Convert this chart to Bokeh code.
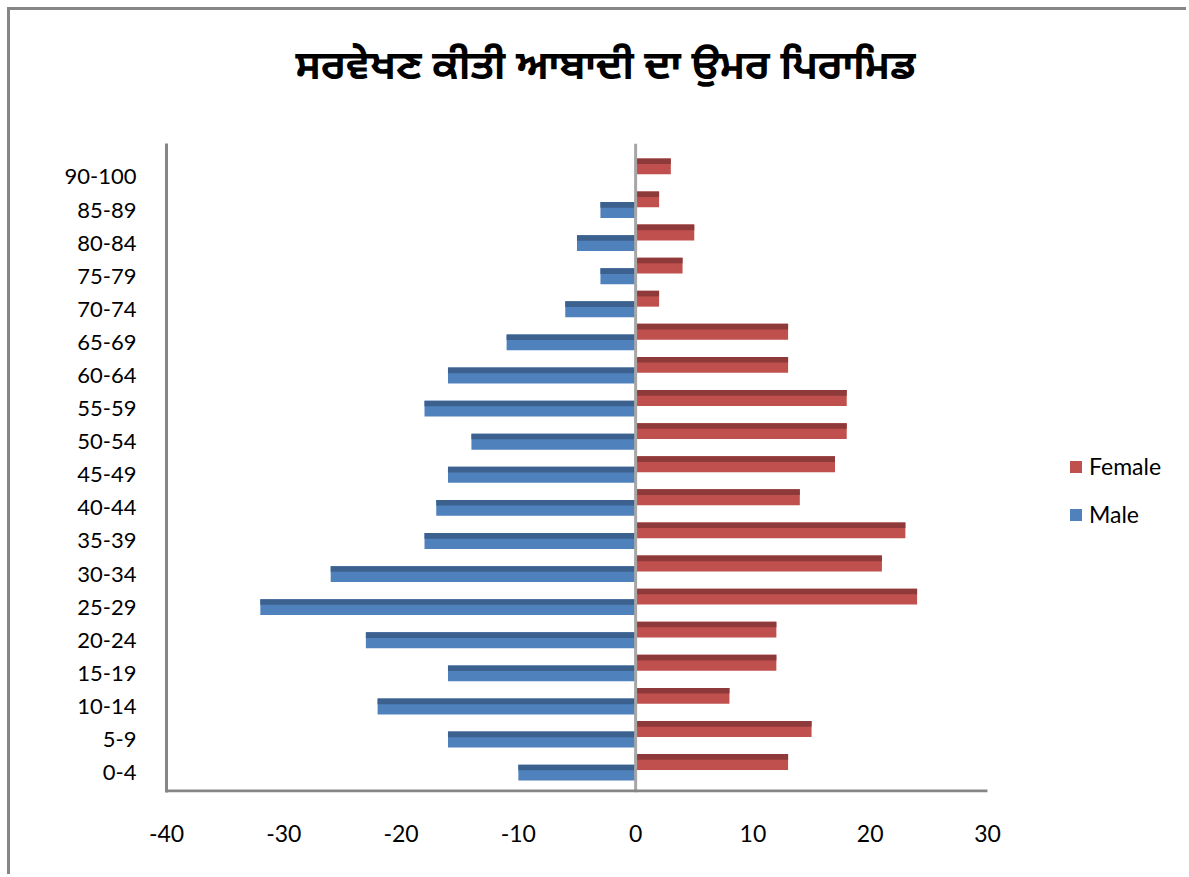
from bokeh.plotting import figure
from bokeh.models import (ColumnDataSource, Range1d, FixedTicker, Span, Legend,
                          LegendItem, BoxAnnotation, Title)
from bokeh.transform import dodge
from bokeh.embed import file_html
from bokeh.resources import INLINE

# ---- data ----
age_groups = ["0-4", "5-9", "10-14", "15-19", "20-24", "25-29", "30-34", "35-39",
              "40-44", "45-49", "50-54", "55-59", "60-64", "65-69", "70-74",
              "75-79", "80-84", "85-89", "90-100"]
male = [-10, -16, -22, -16, -23, -32, -26, -18, -17, -16, -14, -18, -16, -11,
        -6, -3, -5, -3, 0]
female = [13, 15, 8, 12, 12, 24, 21, 23, 14, 17, 18, 18, 13, 13, 2, 4, 5, 2, 3]
x_ticks = [-40, -30, -20, -10, 0, 10, 20, 30]
title_text = "ਸਰਵੇਖਣ ਕੀਤੀ ਆਬਾਦੀ ਦਾ ਉਮਰ ਪਿਰਾਮਿਡ"

pos = list(range(len(age_groups)))
src = ColumnDataSource(dict(y=pos, male=male, female=female,
                            zero=[0] * len(pos)))

FONT = "Lato"
Y_LO, Y_HI = -0.6, 19.01
X_END = 46.8   # frame extends to the right to hold the legend

p = figure(width=1179, height=867, output_backend="svg", toolbar_location=None,
           x_range=Range1d(x_ticks[0], X_END), y_range=Range1d(Y_LO, Y_HI),
           min_border_left=156, min_border_right=5,
           min_border_top=133, min_border_bottom=85,
           background_fill_color="white", border_fill_color="white")
p.styles = {"margin-left": "7px", "margin-top": "7px",
            "border-left": "3px solid #868686", "border-top": "3px solid #868686"}
p.outline_line_color = None
p.grid.visible = False

# spacer between title and plot area (closest to the frame)
p.add_layout(Title(text=" ", text_font_size="1px", standoff=41), "above")

# title (outermost)
p.title.text = title_text
p.title.text_font = "Noto Sans Gurmukhi, Noto Sans, sans-serif"
p.title.text_font_size = "40px"
p.title.text_font_style = "bold"
p.title.align = "left"
p.title.vertical_align = "bottom"
p.title.offset = 129
p.title.standoff = 10
p.title.text_color = "black"

BH = 0.48      # bar height
DH = 0.17      # dark band height
F_OFF = 0.32   # female offset

# male bars
rm = p.hbar(y=dodge("y", 0, range=p.y_range), left="male", right="zero", height=BH,
            source=src, fill_color="#4F81BD", line_color=None)
p.hbar(y=dodge("y", BH / 2 - DH / 2, range=p.y_range), left="male", right="zero",
       height=DH, source=src, fill_color="#3C618E", line_color=None)
# female bars
rf = p.hbar(y=dodge("y", F_OFF, range=p.y_range), left="zero", right="female",
            height=BH, source=src, fill_color="#C0504D", line_color=None)
p.hbar(y=dodge("y", F_OFF + BH / 2 - DH / 2, range=p.y_range), left="zero",
       right="female", height=DH, source=src, fill_color="#8F3A3A", line_color=None)

# zero line
p.add_layout(Span(location=0, dimension="height", line_color="#A6A6A6", line_width=3))

# bottom axis line only across the tick span (-40 .. 30)
p.add_layout(BoxAnnotation(left=x_ticks[0], right=x_ticks[-1], bottom=Y_LO,
                           top=Y_LO + 0.09, fill_color="#868686", fill_alpha=1,
                           line_color=None))

# axes
xa = p.xaxis[0]
xa.ticker = FixedTicker(ticks=x_ticks)
xa.major_label_overrides = {t: str(t) for t in x_ticks}
xa.axis_line_color = None
xa.major_tick_line_color = None
xa.minor_tick_line_color = None
xa.major_label_standoff = 26
xa.major_label_text_font = FONT
xa.major_label_text_font_size = "23px"
xa.major_label_text_color = "black"

ya = p.yaxis[0]
ya.ticker = FixedTicker(ticks=pos)
ya.major_label_overrides = {i: g for i, g in zip(pos, age_groups)}
ya.axis_line_color = "#868686"
ya.axis_line_width = 3
ya.major_tick_line_color = None
ya.minor_tick_line_color = None
ya.major_label_standoff = 24
ya.major_label_text_font = FONT
ya.major_label_text_font_size = "22px"
ya.major_label_text_color = "black"

legend = Legend(items=[LegendItem(label="Female", renderers=[rf]),
                       LegendItem(label="Male", renderers=[rm])],
                location=(902, 264), orientation="vertical",
                border_line_color=None, background_fill_alpha=0,
                margin=0, padding=0, spacing=20,
                glyph_width=15, glyph_height=15, label_standoff=6,
                label_text_font=FONT, label_text_font_size="23px",
                label_text_color="black")
p.add_layout(legend, "center")

open("out.html", "w").write(file_html(p, INLINE))
